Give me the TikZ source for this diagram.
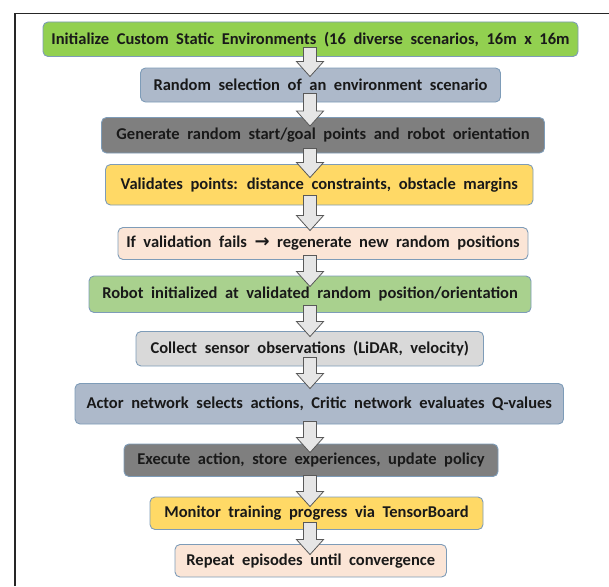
\documentclass[tikz,border=0pt]{standalone}
\usepackage{fontspec}
\setmainfont{Carlito}
\usetikzlibrary{calc}
\definecolor{cgreen}{HTML}{92D050}
\definecolor{cblue}{HTML}{ADB9CA}
\definecolor{cdark}{HTML}{7F7F7F}
\definecolor{cyellow}{HTML}{FFD966}
\definecolor{cpeach}{HTML}{FBE5D6}
\definecolor{clgreen}{HTML}{A9D18E}
\definecolor{clgray}{HTML}{D9D9D9}
\definecolor{boxline}{HTML}{7E9CB8}
\definecolor{arrowfill}{HTML}{E6E6E6}
\definecolor{arrowline}{HTML}{595959}
\newcommand\myboxfont{\fontsize{16.5}{18}\selectfont\bfseries\setlength{\spaceskip}{7.6pt}}
\newcommand\flowarrow[4]{%
  \draw[blockarrow] let \p1=(#1.south), \p2=(#2.north) in
  (303.5pt,\y1+#3pt) -- (316.5pt,\y1+#3pt) -- (316.5pt,\y2-#4pt+15pt) -- (323.5pt,\y2-#4pt+15pt)
  -- (310pt,\y2-#4pt) -- (296.5pt,\y2-#4pt+15pt) -- (303.5pt,\y2-#4pt+15pt) -- cycle;}
\begin{document}
\begin{tikzpicture}[x=1pt,y=-1pt,
  box/.style={draw=boxline, line width=0.9pt, rounded corners=5pt, inner sep=0pt,
    font=\myboxfont, text=black!90},
  blockarrow/.style={draw=arrowline, fill=arrowfill, line width=0.8pt, line join=miter}]
\useasboundingbox (0,0) rectangle (609,586);
\draw[line width=1.2pt, color=black!85] (15,586) -- (15,13.5) -- (609,13.5);
\node[box, fill=cgreen, minimum width=535pt, minimum height=34.5pt] (n1) at (310.5,39.25)
  {Initialize Custom Static Environments (16 diverse scenarios, 16m x 16m};
\node[box, fill=cblue, minimum width=360pt, minimum height=34pt] (n2) at (320.5,85)
  {Random selection of an environment scenario};
\node[box, fill=cdark, minimum width=443pt, minimum height=35.5pt] (n3) at (323,135.25)
  {Generate random start/goal points and robot orientation};
\node[box, fill=cyellow, minimum width=427.5pt, minimum height=40.5pt] (n4) at (319.25,184.75)
  {Validates points: distance constraints, obstacle margins};
\node[box, fill=cpeach, minimum width=410pt, minimum height=32pt] (n5) at (323,243.5)
  {If validation fails {\fontspec{DejaVu Sans}\fontsize{18}{18}\selectfont\bfseries →} regenerate new random positions};
\node[box, fill=clgreen, minimum width=442pt, minimum height=36.5pt] (n6) at (310,294.25)
  {Robot initialized at validated random position/orientation};
\node[box, fill=clgray, minimum width=347.5pt, minimum height=34.5pt] (n7) at (309.75,348.75)
  {Collect sensor observations (LiDAR, velocity)};
\node[box, fill=cblue, minimum width=488.5pt, minimum height=40.5pt] (n8) at (319.25,403.75)
  {Actor network selects actions, Critic network evaluates Q-values};
\node[box, fill=cdark, minimum width=374pt, minimum height=32.5pt] (n9) at (311,460.25)
  {Execute action, store experiences, update policy};
\node[box, fill=cyellow, minimum width=333pt, minimum height=32.5pt] (n10) at (316.5,513.25)
  {Monitor training progress via TensorBoard};
\node[box, fill=cpeach, minimum width=271.5pt, minimum height=32.5pt] (n11) at (310.75,560.75)
  {Repeat episodes until convergence};
\flowarrow{n1}{n2}{9.5}{9}
\flowarrow{n2}{n3}{9}{9}
\flowarrow{n3}{n4}{5}{13.5}
\flowarrow{n4}{n5}{10}{3.5}
\flowarrow{n5}{n6}{4.5}{11}
\flowarrow{n6}{n7}{7.5}{5.5}
\flowarrow{n7}{n8}{9}{5.5}
\flowarrow{n8}{n9}{3}{9}
\flowarrow{n9}{n10}{1.5}{10}
\flowarrow{n10}{n11}{7.5}{10.5}
\end{tikzpicture}
\end{document}
